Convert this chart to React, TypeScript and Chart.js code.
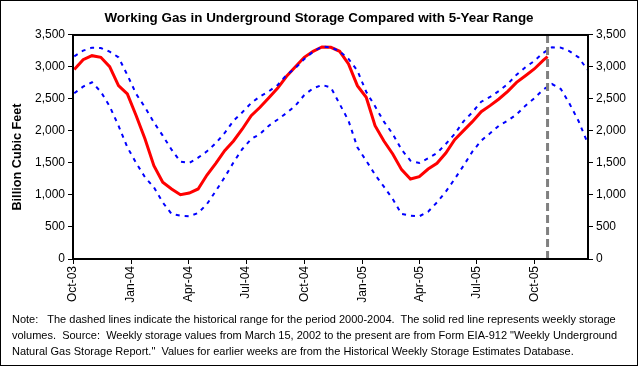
import React, { useEffect, useRef } from "react";
import { Chart, registerables } from "chart.js";

Chart.register(...registerables);

const chartTitle = "Working Gas in Underground Storage Compared with 5-Year Range";
const yAxisTitle = "Billion Cubic Feet";

const rangeDates = [
  "2003-10-03", "2003-10-17", "2003-10-31", "2003-11-14", "2003-11-28", "2003-12-12", "2003-12-26",
  "2004-01-09", "2004-01-23", "2004-02-06", "2004-02-20", "2004-03-05", "2004-03-19", "2004-04-02",
  "2004-04-16", "2004-04-30", "2004-05-14", "2004-05-28", "2004-06-11", "2004-06-25", "2004-07-09",
  "2004-07-23", "2004-08-06", "2004-08-20", "2004-09-03", "2004-09-17", "2004-10-01", "2004-10-15",
  "2004-10-29", "2004-11-12", "2004-11-26", "2004-12-10", "2004-12-24", "2005-01-07", "2005-01-21",
  "2005-02-04", "2005-02-18", "2005-03-04", "2005-03-18", "2005-04-01", "2005-04-15", "2005-04-29",
  "2005-05-13", "2005-05-27", "2005-06-10", "2005-06-24", "2005-07-08", "2005-07-22", "2005-08-05",
  "2005-08-19", "2005-09-02", "2005-09-16", "2005-09-30", "2005-10-14", "2005-10-28", "2005-11-11",
  "2005-11-25", "2005-12-09", "2005-12-23",
];

const storageDates = [...rangeDates.slice(0, 54), "2005-10-21"];

const storageValues = [
  2960, 3114, 3177, 3151, 3005, 2708, 2578, 2239, 1875, 1458, 1198, 1094, 1005, 1031,
  1094, 1312, 1495, 1693, 1844, 2031, 2239, 2370, 2521, 2670, 2854, 3005, 3151, 3245,
  3312, 3307, 3245, 3047, 2708, 2526, 2083, 1844, 1641, 1396, 1250, 1286, 1406, 1495,
  1656, 1864, 2005, 2146, 2302, 2396, 2500, 2620, 2760, 2864, 2969, 3104, 3161,
];

const rangeMax = [
  3166, 3255, 3302, 3297, 3239, 3151, 2875, 2578, 2370, 2135, 1927, 1708, 1521, 1500,
  1583, 1682, 1812, 1969, 2161, 2292, 2437, 2541, 2620, 2719, 2875, 2984, 3125, 3239,
  3318, 3307, 3245, 3125, 2943, 2614, 2385, 2146, 1953, 1708, 1536, 1500, 1573, 1656,
  1797, 1953, 2151, 2292, 2458, 2531, 2625, 2734, 2880, 2995, 3094, 3219, 3307, 3302,
  3245, 3151, 2958,
];

const rangeMin = [
  2590, 2693, 2760, 2614, 2385, 2083, 1745, 1500, 1276, 1120, 885, 703, 677, 667,
  719, 859, 1062, 1276, 1510, 1719, 1875, 1953, 2083, 2180, 2281, 2396, 2562, 2667,
  2719, 2682, 2422, 2161, 1745, 1536, 1318, 1130, 937, 703, 677, 667, 740, 885,
  1052, 1250, 1458, 1677, 1849, 1963, 2083, 2161, 2260, 2396, 2510, 2646, 2734, 2656,
  2422, 2156, 1823,
];

const tickDates = [
  "2003-10-01", "2004-01-01", "2004-04-01", "2004-07-01", "2004-10-01",
  "2005-01-01", "2005-04-01", "2005-07-01", "2005-10-01",
];
const tickLabels = ["Oct-03", "Jan-04", "Apr-04", "Jul-04", "Oct-04", "Jan-05", "Apr-05", "Jul-05", "Oct-05"];
const yTicks = [0, 500, 1000, 1500, 2000, 2500, 3000, 3500];

const axisStart = "2003-10-01";
const axisEnd = "2005-12-24";
const currentWeek = "2005-10-21";

const noteLines = [
  "Note:   The dashed lines indicate the historical range for the period 2000-2004.  The solid red line represents weekly storage",
  "volumes.  Source:  Weekly storage values from March 15, 2002 to the present are from Form EIA-912 \"Weekly Underground",
  "Natural Gas Storage Report.\"  Values for earlier weeks are from the Historical Weekly Storage Estimates Database.",
];

function dayOf(s: string): number {
  const [y, m, d] = s.split("-").map(Number);
  return (Date.UTC(y, m - 1, d) - Date.UTC(2003, 9, 1)) / 86400000;
}

const FONT = "'Liberation Sans', Arial, sans-serif";

export default function App() {
  const ref = useRef<HTMLCanvasElement | null>(null);

  useEffect(() => {
    if (!ref.current) return;
    const tickDays = tickDates.map(dayOf);
    const curDay = dayOf(currentWeek);

    const framePlugin = {
      id: "frame",
      afterDatasetsDraw(chart: any) {
        const { ctx, chartArea, scales } = chart;
        const x = scales.x.getPixelForValue(curDay);
        ctx.save();
        ctx.strokeStyle = "#808080";
        ctx.lineWidth = 3;
        ctx.setLineDash([8, 4]);
        ctx.beginPath();
        ctx.moveTo(x, chartArea.top);
        ctx.lineTo(x, chartArea.bottom);
        ctx.stroke();
        ctx.restore();
      },
      afterDraw(chart: any) {
        const { ctx, chartArea, width, height } = chart;
        ctx.save();
        ctx.strokeStyle = "#000";
        ctx.lineWidth = 2;
        ctx.setLineDash([]);
        ctx.strokeRect(chartArea.left, chartArea.top, chartArea.right - chartArea.left, chartArea.bottom - chartArea.top);
        ctx.lineWidth = 1;
        ctx.strokeRect(0.5, 0.5, width - 1, height - 1);
        // y-axis title
        ctx.translate(17, 157);
        ctx.rotate(-Math.PI / 2);
        ctx.fillStyle = "#000";
        ctx.font = "bold 12.7px " + FONT;
        ctx.textAlign = "center";
        ctx.textBaseline = "middle";
        ctx.fillText(yAxisTitle, 0, 0);
        ctx.restore();
      },
    };

    const yTickCfg = {
      font: { family: FONT, size: 12 },
      color: "#000",
      padding: 3,
      callback: (v: any) => Number(v).toLocaleString("en-US"),
    };
    const gridCfg = {
      drawOnChartArea: false,
      drawTicks: true,
      tickLength: 5,
      color: "#000",
      lineWidth: 1,
    };

    const chart = new Chart(ref.current, {
      type: "line",
      data: {
        datasets: [
          {
            label: "Max",
            data: rangeDates.map((d, i) => ({ x: dayOf(d), y: rangeMax[i] })),
            borderColor: "#0000FF",
            borderWidth: 2,
            borderDash: [4, 5],
            pointRadius: 0,
            tension: 0,
          },
          {
            label: "Min",
            data: rangeDates.map((d, i) => ({ x: dayOf(d), y: rangeMin[i] })),
            borderColor: "#0000FF",
            borderWidth: 2,
            borderDash: [4, 5],
            pointRadius: 0,
            tension: 0,
          },
          {
            label: "Storage",
            data: storageDates.map((d, i) => ({ x: dayOf(d), y: storageValues[i] })),
            borderColor: "#FF0000",
            borderWidth: 3,
            pointRadius: 0,
            tension: 0,
          },
        ],
      },
      options: {
        animation: false,
        responsive: false,
        layout: { padding: 0 },
        plugins: {
          legend: { display: false },
          tooltip: { enabled: false },
          title: {
            display: true,
            text: chartTitle,
            color: "#000",
            font: { family: FONT, size: 13.4, weight: "bold" },
            padding: { top: 10, bottom: 8.9 },
          },
        },
        scales: {
          x: {
            type: "linear",
            min: dayOf(axisStart),
            max: dayOf(axisEnd),
            afterBuildTicks: (s: any) => {
              s.ticks = tickDays.map((v) => ({ value: v }));
            },
            afterFit: (s: any) => {
              s.height = 107;
            },
            ticks: {
              autoSkip: false,
              minRotation: 90,
              maxRotation: 90,
              padding: 2,
              color: "#000",
              font: { family: FONT, size: 12 },
              callback: (v: any) => tickLabels[tickDays.indexOf(Number(v))],
            },
            grid: gridCfg,
            border: { display: false },
          },
          y: {
            position: "left",
            min: 0,
            max: 3500,
            afterBuildTicks: (s: any) => {
              s.ticks = yTicks.map((v) => ({ value: v }));
            },
            afterFit: (s: any) => {
              s.width = 73;
            },
            ticks: yTickCfg,
            grid: gridCfg,
            border: { display: false },
          },
          y2: {
            position: "right",
            min: 0,
            max: 3500,
            afterBuildTicks: (s: any) => {
              s.ticks = yTicks.map((v) => ({ value: v }));
            },
            afterFit: (s: any) => {
              s.width = 50;
            },
            ticks: yTickCfg,
            grid: gridCfg,
            border: { display: false },
          },
        },
      },
      plugins: [framePlugin],
    } as any);

    return () => chart.destroy();
  }, []);

  return (
    <div style={{ position: "absolute", left: 0, top: 0, width: 638, height: 366, background: "#fff" }}>
      <canvas ref={ref} width={638} height={366} style={{ display: "block", width: 638, height: 366 }} />
      <div
        style={{
          position: "absolute",
          left: 12,
          top: 311,
          fontFamily: FONT,
          fontSize: 11,
          lineHeight: "16px",
          color: "#000",
          whiteSpace: "pre",
        }}
      >
        {noteLines.map((l, i) => (
          <div key={i}>{l}</div>
        ))}
      </div>
    </div>
  );
}
